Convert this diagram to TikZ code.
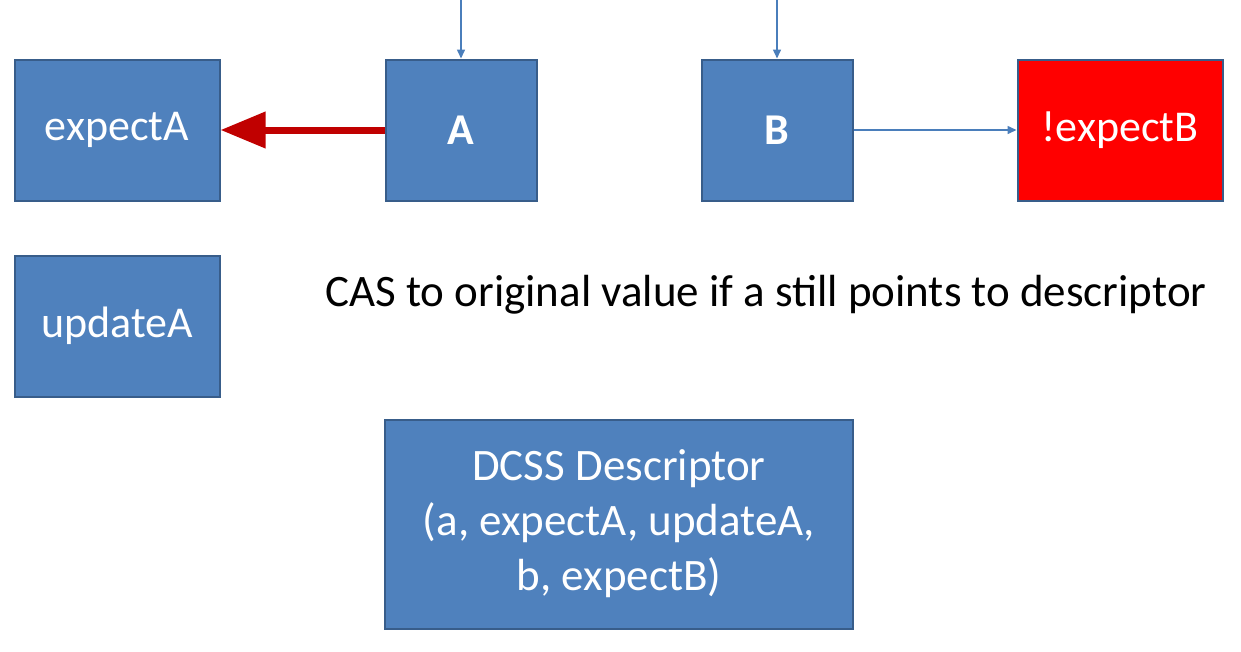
\documentclass[tikz,border=0pt]{standalone}
\usepackage{fontspec}
\setmainfont{Carlito}
\usetikzlibrary{positioning, arrows.meta}

\definecolor{boxblue}{HTML}{4F81BD}
\definecolor{boxedge}{HTML}{385D8A}
\definecolor{linkblue}{HTML}{4A7EBB}
\definecolor{darkred}{HTML}{C00000}

\tikzset{
    cell/.style={draw=boxedge, line width=2pt, fill=boxblue, text=white, inner sep=0pt,
        font=\fontsize{44}{54}\selectfont, minimum height=141pt},
    wide/.style={cell, minimum width=205pt},
    narrow/.style={cell, minimum width=151pt, font=\fontsize{44}{54}\selectfont\bfseries},
    link/.style={draw=linkblue, line width=1.5pt, -{Triangle[length=9pt, width=8pt]}},
    swing/.style={draw=darkred, line width=7pt, -{Triangle[length=45pt, width=35pt]}}
}

\begin{document}
\begin{tikzpicture}[x=1pt, y=-1pt]
\useasboundingbox (0,0) rectangle (1241,651);

% Top row
\node[wide] (expectA) at (117,130) {expectA};
\node[narrow] (A) at (461,130) {A};
\node[narrow] (B) at (777,130) {B};
\node[wide, fill=red, draw=boxedge] (notexpectB) at (1120,130) {!expectB};

% Lower part
\node[wide] (updateA) at (117,326) {updateA};
\node[font=\fontsize{45}{54}\selectfont] (note) at (766,295) {CAS to original value if a still points to descriptor};
\node[cell, minimum width=468pt, minimum height=209pt, align=center, font=\fontsize{45}{55}\selectfont] (desc) at (619,524)
    {DCSS Descriptor\\(a, expectA, updateA,\\b, expectB)};

% Pointers
\coordinate (topA) at (A.north |- 0,0);
\coordinate (topB) at (B.north |- 0,0);
\draw[link] (topA) -- (A);
\draw[link] (topB) -- (B);
\draw[link] (B) -- (notexpectB);
\draw[swing] (A) -- (expectA);
\end{tikzpicture}
\end{document}
